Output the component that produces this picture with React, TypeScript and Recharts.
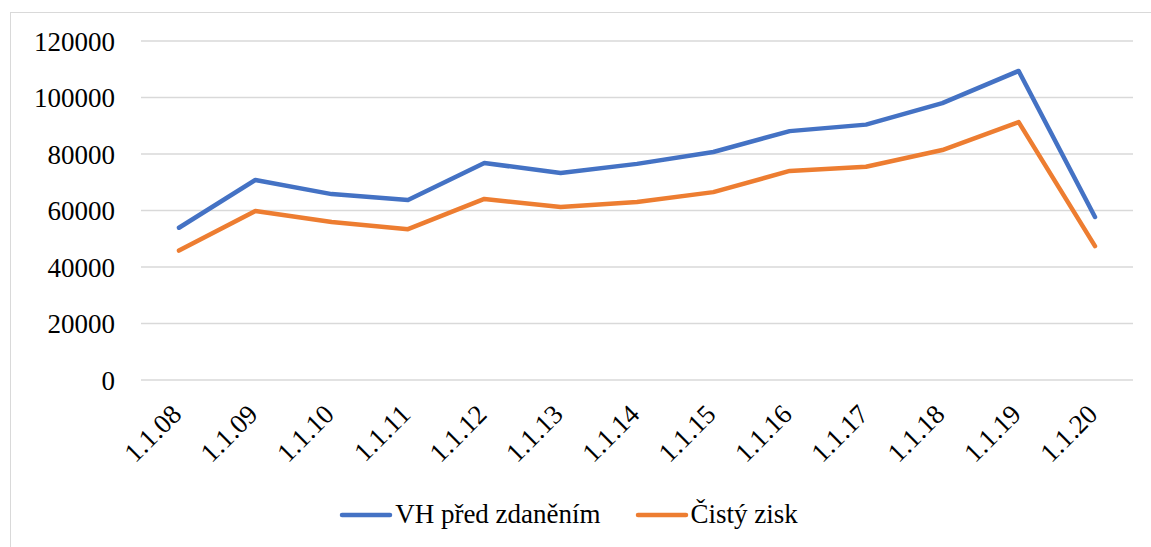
import { LineChart, Line, XAxis, YAxis, CartesianGrid, Legend } from "recharts";

const categories = ["1.1.08", "1.1.09", "1.1.10", "1.1.11", "1.1.12", "1.1.13", "1.1.14", "1.1.15", "1.1.16", "1.1.17", "1.1.18", "1.1.19", "1.1.20"];
const vhPredZdanenim = [53900, 70800, 65800, 63700, 76800, 73300, 76500, 80700, 88100, 90400, 98000, 109400, 57700];
const cistyZisk = [45800, 59800, 55900, 53400, 64100, 61200, 63000, 66500, 74000, 75500, 81400, 91300, 47400];
const yTicks = [0, 20000, 40000, 60000, 80000, 100000, 120000];

const seriesNames = ["VH před zdaněním", "Čistý zisk"];
const seriesColors = ["#4472C4", "#ED7D31"];

const data = categories.map((c, i) => ({
  name: c,
  vh: vhPredZdanenim[i],
  cz: cistyZisk[i],
}));

const FONT = "'Liberation Serif', 'Times New Roman', Times, Tinos, 'Nimbus Roman', 'Noto Serif', 'DejaVu Serif', serif";
const FS = 27;

function XTick(props: any) {
  const { x, y, payload } = props;
  const tx = x + 4;
  const ty = y + 28;
  return (
    <text
      x={tx}
      y={ty}
      transform={`rotate(-45, ${tx}, ${ty})`}
      textAnchor="end"
      style={{ fontFamily: FONT, fontSize: FS }}
      fill="#000"
    >
      {payload.value}
    </text>
  );
}

function LegendContent() {
  return (
    <div style={{ display: "flex", justifyContent: "center", alignItems: "center", fontFamily: FONT, fontSize: FS, color: "#000", paddingTop: 4, paddingLeft: 4 }}>
      {seriesNames.map((n, i) => (
        <div key={n} style={{ display: "flex", alignItems: "center", marginRight: i === 0 ? 34 : 0 }}>
          <svg width={54} height={10} style={{ marginRight: 2 }}>
            <line x1={3} y1={5} x2={51} y2={5} stroke={seriesColors[i]} strokeWidth={4.5} strokeLinecap="round" />
          </svg>
          <span>{n}</span>
        </div>
      ))}
    </div>
  );
}

export default function App() {
  return (
    <div style={{ position: "absolute", left: 0, top: 0, width: 1151, height: 547, background: "#fff", fontFamily: FONT }}>
      <div style={{ position: "absolute", left: 10, top: 12, width: 1150, height: 545, border: "1.5px solid #d9d9d9", boxSizing: "border-box" }} />
      <LineChart width={1151} height={547} data={data} margin={{ top: 41, right: 18, left: 0, bottom: 0 }} style={{ fontFamily: FONT }}>
        <CartesianGrid vertical={false} stroke="#d9d9d9" strokeWidth={1.5} />
        <XAxis dataKey="name" axisLine={false} tickLine={false} height={115} tick={<XTick />} interval={0} padding={{ left: 38, right: 38 }} />
        <YAxis
          width={141}
          domain={[0, 120000]}
          ticks={yTicks}
          axisLine={false}
          tickLine={false}
          tickMargin={20}
          tick={{ fontFamily: FONT, fontSize: FS, fill: "#000" }}
        />
        <Legend verticalAlign="bottom" height={52} content={<LegendContent />} />
        <Line type="linear" dataKey="vh" name={seriesNames[0]} stroke={seriesColors[0]} strokeWidth={4.5} dot={false} strokeLinecap="round" strokeLinejoin="round" isAnimationActive={false} />
        <Line type="linear" dataKey="cz" name={seriesNames[1]} stroke={seriesColors[1]} strokeWidth={4.5} dot={false} strokeLinecap="round" strokeLinejoin="round" isAnimationActive={false} />
      </LineChart>
    </div>
  );
}
